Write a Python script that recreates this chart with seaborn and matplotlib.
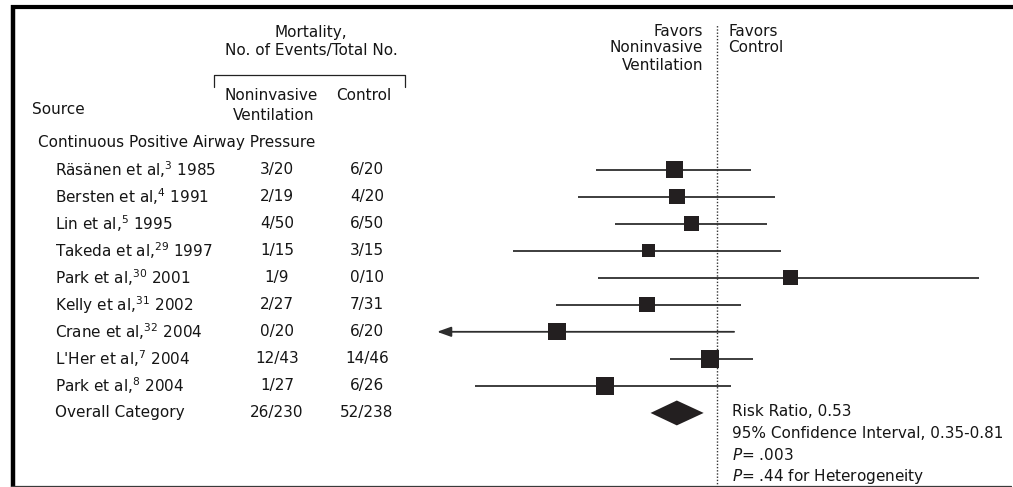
import numpy as np
import pandas as pd
import matplotlib
matplotlib.use("Agg")
import matplotlib.pyplot as plt
import matplotlib.transforms as mtransforms
import seaborn as sns

# ---------------- data ----------------
study_names = ["Räsänen et al,", "Bersten et al,", "Lin et al,", "Takeda et al,",
               "Park et al,", "Kelly et al,", "Crane et al,", "L'Her et al,", "Park et al,"]
study_refs = ["3", "4", "5", "29", "30", "31", "32", "7", "8"]
study_years = ["1985", "1991", "1995", "1997", "2001", "2002", "2004", "2004", "2004"]
niv_events = [3, 2, 4, 1, 1, 2, 0, 12, 1]
niv_total = [20, 19, 50, 15, 9, 27, 20, 43, 27]
ctl_events = [6, 4, 6, 3, 0, 7, 6, 14, 6]
ctl_total = [20, 20, 50, 15, 10, 31, 20, 46, 26]
risk_ratio = [0.51, 0.53, 0.67, 0.34, 3.2, 0.33, 0.08, 0.90, 0.17]
ci_low = [0.148, 0.111, 0.20, 0.040, 0.153, 0.079, 0.012, 0.475, 0.022]
ci_high = [1.71, 2.50, 2.20, 2.75, 62.8, 1.46, 1.31, 1.77, 1.25]
ci_truncated = [False, False, False, False, False, False, True, False, False]
box_weight = [306, 240, 240, 182, 240, 240, 299, 313, 313]

overall_label = "Overall Category"
overall_niv_events, overall_niv_total = 26, 230
overall_ctl_events, overall_ctl_total = 52, 238
overall_rr, overall_lo, overall_hi = 0.53, 0.35, 0.81
p_overall = ".003"
p_heterogeneity = ".44"

group_label = "Continuous Positive Airway Pressure"

# ---------------- style ----------------
sns.set_theme(style="white")
plt.rcParams['font.family'] = ['DejaVu Sans']
plt.rcParams['mathtext.fontset'] = 'dejavusans'
FS = 11
TXT = '#151515'
INK = '#231f20'
LINE = '#2e2e2e'

W, H = 1013, 487
fig = plt.figure(figsize=(W / 100, H / 100), dpi=100)
fig.patch.set_facecolor('white')

# background/layout axes in pixel units
bg = fig.add_axes([0, 0, 1, 1])
bg.set_xlim(0, W)
bg.set_ylim(H, 0)
bg.axis('off')

# forest axes (log risk-ratio scale)
x0 = 420
ref_px = 717
px_per_ln = 63.3
row0_px = 169.5
row_px = 27.05
fa = fig.add_axes([x0 / W, 0, (W - x0) / W, 1])
fa.set_xscale('log')
xlim = (np.exp((x0 - ref_px) / px_per_ln), np.exp((W - ref_px) / px_per_ln))
ylim = ((H - row0_px) / row_px, -row0_px / row_px)
fa.set_xlim(*xlim)
fa.set_ylim(*ylim)
fa.patch.set_alpha(0)
fa.axis('off')

n = len(study_names)
rows = np.arange(n)
overall_row = n

df = pd.DataFrame({"rr": risk_ratio, "lo": ci_low, "hi": ci_high,
                   "w": box_weight, "row": rows, "trunc": ci_truncated})

# border
bg.plot([12.5, 12.5], [5, H], color='black', lw=3.2, solid_capstyle='butt')
bg.plot([10.5, W], [7, 7], color='black', lw=3.0, solid_capstyle='butt')
bg.plot([10.5, W - 2], [485.5, 485.5], color='#3a3a3a', lw=0.9)

# reference line
fa.axvline(1, ymin=0, ymax=1 - 25 / H, color='#333333', lw=1.0, ls=(0, (1, 1.3)))

# confidence intervals
full = df[~df.trunc]
fa.hlines(full.row, full.lo, full.hi, color=LINE, lw=1.3, zorder=2)
for _, r in df[df.trunc].iterrows():
    fa.annotate('', xy=(r.lo, r.row), xytext=(r.hi, r.row),
                arrowprops=dict(arrowstyle='-|>,head_length=0.7,head_width=0.25',
                                color=LINE, lw=1.3, shrinkA=0, shrinkB=0), zorder=2)

# boxes
sns.scatterplot(data=df, x='rr', y='row', size='w', sizes=(0, 162),
                size_norm=(0, max(box_weight)), marker='s', color=INK,
                edgecolor='none', legend=False, ax=fa, zorder=3)
fa.set_xlim(*xlim)
fa.set_ylim(*ylim)
fa.axis('off')

# overall diamond
h = 0.46
fa.fill([overall_lo, overall_rr, overall_hi, overall_rr],
        [overall_row, overall_row - h, overall_row, overall_row + h],
        color=INK, lw=0, zorder=3)

# ---------------- table text ----------------
tr = mtransforms.blended_transform_factory(bg.transData, fa.transData)
kw = dict(fontsize=FS, color=TXT, va='center')

for i in range(n):
    bg.text(55, rows[i], f"{study_names[i]}$^{{{study_refs[i]}}}$ {study_years[i]}",
            transform=tr, ha='left', **kw)
    bg.text(277, rows[i], f"{niv_events[i]}/{niv_total[i]}", transform=tr, ha='center', **kw)
    bg.text(367, rows[i], f"{ctl_events[i]}/{ctl_total[i]}", transform=tr, ha='center', **kw)

bg.text(55, overall_row, overall_label, transform=tr, ha='left', **kw)
bg.text(277, overall_row, f"{overall_niv_events}/{overall_niv_total}", transform=tr, ha='center', **kw)
bg.text(367, overall_row, f"{overall_ctl_events}/{overall_ctl_total}", transform=tr, ha='center', **kw)

# headers
bg.text(311, 33, "Mortality,", ha='center', **kw)
bg.text(311, 50, "No. of Events/Total No.", ha='center', **kw)
bg.plot([213.5, 213.5, 404.5, 404.5], [87, 74.5, 74.5, 87], color='#222222', lw=0.9)
bg.text(224, 96, "Noninvasive", ha='left', **kw)
bg.text(336, 96, "Control", ha='left', **kw)
bg.text(233, 116, "Ventilation", ha='left', **kw)
bg.text(32, 110, "Source", ha='left', **kw)
bg.text(38, 143, group_label, ha='left', **kw)

bg.text(703, 32, "Favors", ha='right', **kw)
bg.text(703, 48, "Noninvasive", ha='right', **kw)
bg.text(703, 65, "Ventilation", ha='right', **kw)
bg.text(728, 32, "Favors", ha='left', **kw)
bg.text(728, 48, "Control", ha='left', **kw)

# summary statistics
bg.text(732, 412, f"Risk Ratio, {overall_rr:.2f}", ha='left', **kw)
bg.text(732, 433, f"95% Confidence Interval, {overall_lo:.2f}-{overall_hi:.2f}", ha='left', **kw)
bg.text(732, 455, f"$P$= {p_overall}", ha='left', **kw)
bg.text(732, 476, f"$P$= {p_heterogeneity} for Heterogeneity", ha='left', **kw)

fig.savefig("out.png", dpi=100, facecolor='white')
